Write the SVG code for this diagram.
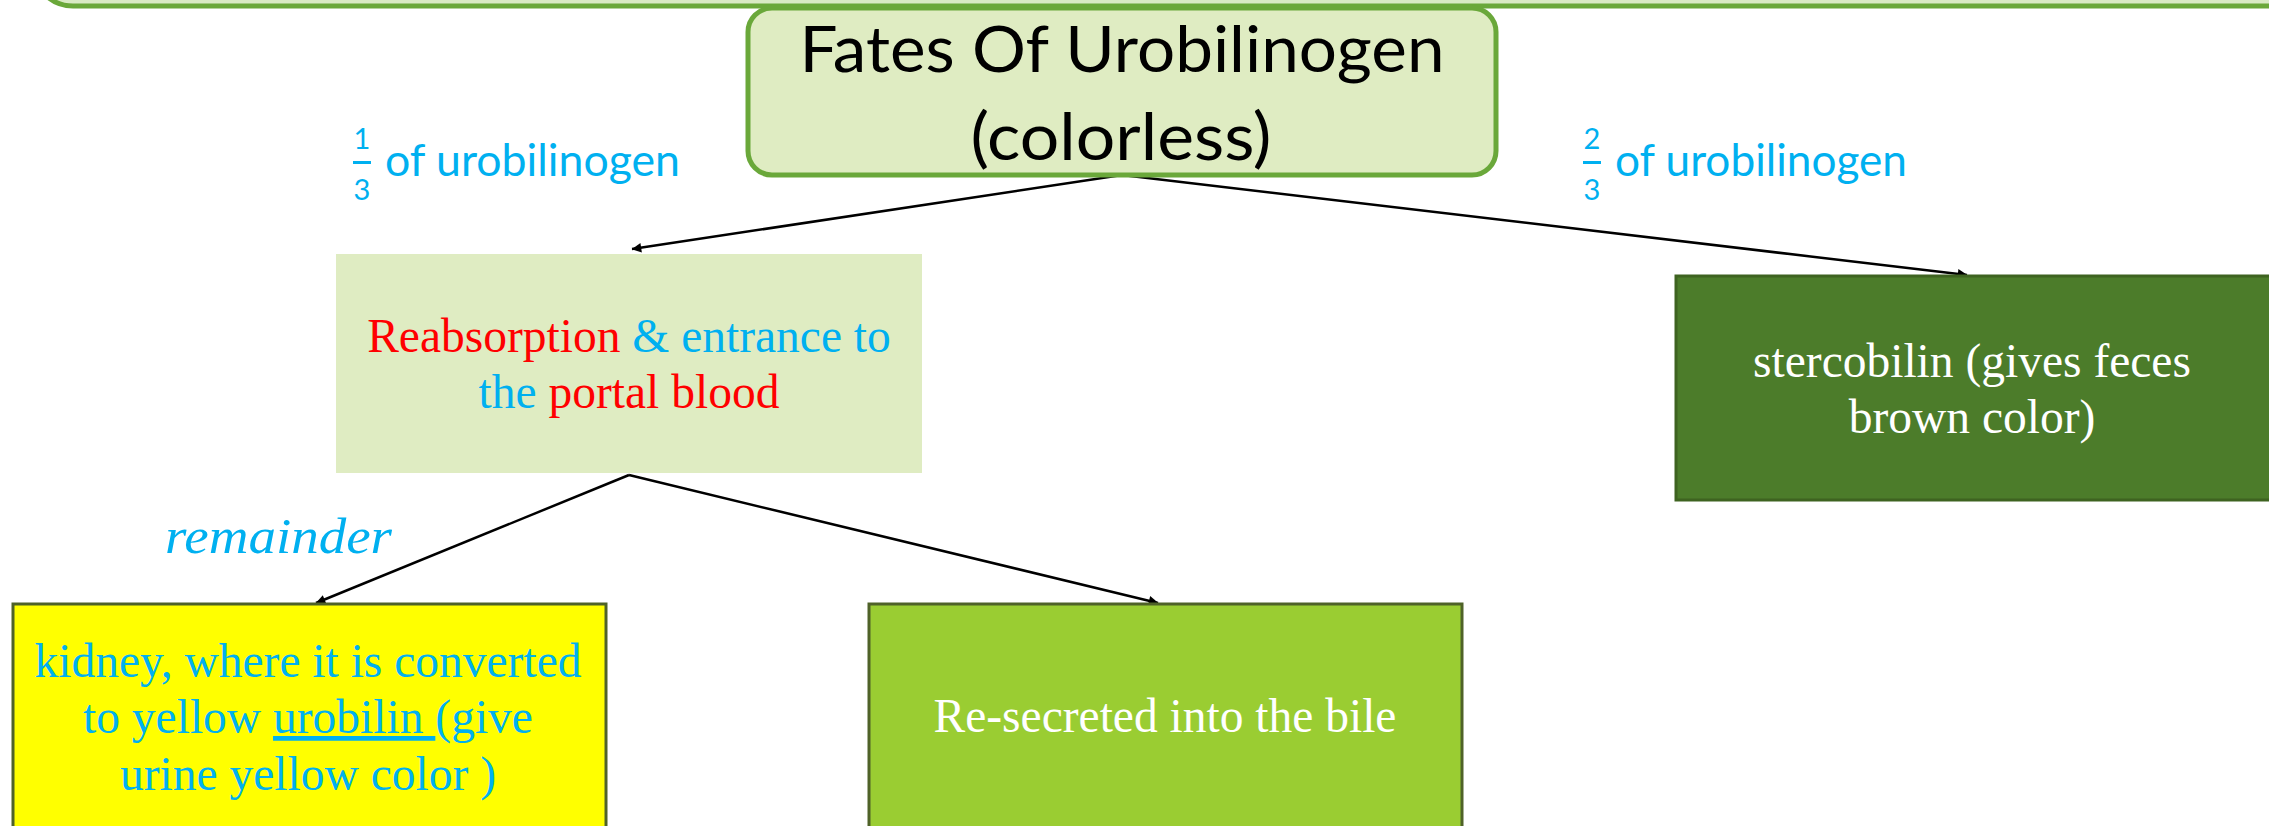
<svg xmlns="http://www.w3.org/2000/svg" width="2269" height="826" viewBox="0 0 2269 826">
<style>
.cal{font-family:Lato,"Liberation Sans",sans-serif}
.tnr{font-family:"Liberation Serif","Times New Roman",serif}
.blue{fill:#00B0F0}
.red{fill:#FF0000}
.conn{stroke:#000;stroke-width:2.5;fill:none;marker-end:url(#ah)}
</style>
<defs>
<marker id="ah" viewBox="0 0 10 10" refX="9" refY="5" markerWidth="6" markerHeight="6" markerUnits="userSpaceOnUse" orient="auto" style="overflow:visible">
<path d="M0,0 L10,5 L0,10 z" fill="#000" transform="scale(1.6) translate(-4,-2) "/>
</marker>
</defs>
<rect width="2269" height="826" fill="#FFFFFF"/>
<g id="frame">
<rect x="33" y="-80" width="2300" height="86" rx="40" fill="#D9EAC4" stroke="#6AA83A" stroke-width="5"/>
</g>
<g id="connectors">
<line class="conn" x1="1122" y1="175" x2="632" y2="249"/>
<line class="conn" x1="1122" y1="175" x2="1967" y2="275"/>
<line class="conn" x1="629" y1="475" x2="316" y2="603"/>
<line class="conn" x1="629" y1="475" x2="1158" y2="603"/>
</g>
<g id="title">
<rect x="748" y="8" width="748" height="167" rx="24" fill="#DFECC2" stroke="#6AA83A" stroke-width="5"/>
<text class="cal" x="1122" y="72" font-size="64" text-anchor="middle" fill="#000" textLength="645" lengthAdjust="spacingAndGlyphs">Fates Of Urobilinogen</text>
<text class="cal" x="1121" y="160" font-size="66" text-anchor="middle" fill="#000" textLength="301" lengthAdjust="spacingAndGlyphs">(colorless)</text>
</g>
<g id="label-left">
<text class="cal blue" x="362" y="149" font-size="29" text-anchor="middle">1</text>
<rect x="353" y="161" width="18" height="3" fill="#00B0F0"/>
<text class="cal blue" x="362" y="200" font-size="29" text-anchor="middle">3</text>
<text class="cal blue" x="385" y="176" font-size="44" textLength="295" lengthAdjust="spacingAndGlyphs">of urobilinogen</text>
</g>
<g id="label-right">
<text class="cal blue" x="1592" y="149" font-size="29" text-anchor="middle">2</text>
<rect x="1583" y="161" width="18" height="3" fill="#00B0F0"/>
<text class="cal blue" x="1592" y="200" font-size="29" text-anchor="middle">3</text>
<text class="cal blue" x="1615" y="176" font-size="44" textLength="292" lengthAdjust="spacingAndGlyphs">of urobilinogen</text>
</g>
<g id="reabsorption">
<rect x="336" y="254" width="586" height="219" fill="#DFECC2"/>
<text class="tnr" x="629" y="352" font-size="47.5" text-anchor="middle"><tspan class="red">Reabsorption</tspan><tspan class="blue"> &amp; entrance to</tspan></text>
<text class="tnr" x="629" y="408" font-size="47.5" text-anchor="middle"><tspan class="blue">the </tspan><tspan class="red">portal blood</tspan></text>
</g>
<g id="stercobilin">
<rect x="1676" y="276" width="600" height="224" fill="#4C7C2A" stroke="#3E6320" stroke-width="3"/>
<text class="tnr" x="1972" y="377" font-size="47.5" text-anchor="middle" fill="#FFFFFF">stercobilin (gives feces</text>
<text class="tnr" x="1972" y="433" font-size="47.5" text-anchor="middle" fill="#FFFFFF">brown color)</text>
</g>
<g id="remainder-label">
<text class="tnr blue" x="165" y="553" font-size="50" font-style="italic" textLength="227" lengthAdjust="spacingAndGlyphs">remainder</text>
</g>
<g id="kidney">
<rect x="13" y="604" width="593" height="240" fill="#FFFF00" stroke="#4F6228" stroke-width="3"/>
<text class="tnr blue" x="308" y="677" font-size="47.5" text-anchor="middle">kidney, where it is converted</text>
<text class="tnr blue" x="308" y="733" font-size="47.5" text-anchor="middle">to yellow <tspan text-decoration="underline">urobilin </tspan>(give</text>
<text class="tnr blue" x="308" y="790" font-size="47.5" text-anchor="middle">urine yellow color )</text>
</g>
<g id="resecreted">
<rect x="869" y="604" width="593" height="240" fill="#9ACD32" stroke="#4F6228" stroke-width="3"/>
<text class="tnr" x="1165" y="732" font-size="47.5" text-anchor="middle" fill="#FFFFFF">Re-secreted into the bile</text>
</g>
</svg>
